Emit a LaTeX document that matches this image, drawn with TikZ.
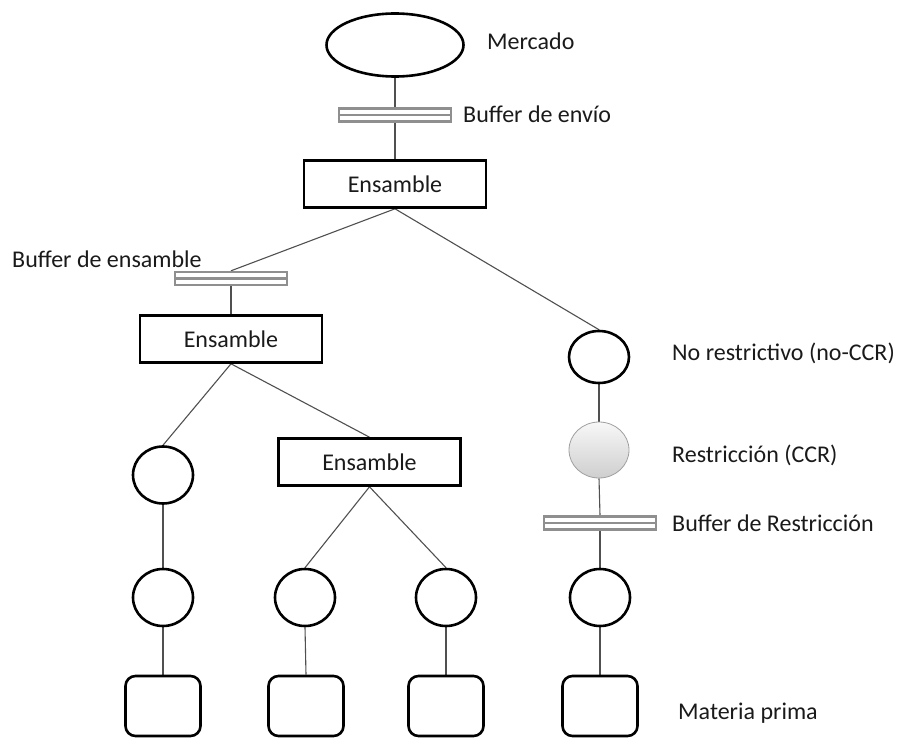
\documentclass[tikz,border=0pt]{standalone}
\usepackage{fontspec}
\setmainfont{Carlito}
\usetikzlibrary{shapes.geometric,backgrounds}
\definecolor{txt}{HTML}{1A1A1A}
\definecolor{bufgray}{HTML}{8F8F8F}
\definecolor{conn}{HTML}{505050}
\begin{document}
\begin{tikzpicture}[x=1pt,y=-1pt,
  font=\fontsize{24}{28}\selectfont,
  ensbox/.style={draw=black, line width=2.6pt, rectangle, minimum width=182pt, minimum height=47pt, inner sep=0pt, fill=white, text=txt},
  proc/.style={draw=black, line width=2.6pt, ellipse, minimum width=60pt, minimum height=57pt, inner sep=0pt, fill=white},
  ccrstyle/.style={draw=gray!75, line width=0.8pt, ellipse, minimum width=60pt, minimum height=56pt, inner sep=0pt, top color=gray!6, bottom color=gray!38},
  bufbar/.style={rectangle, draw=bufgray, line width=2.4pt, fill=white, minimum width=112pt, minimum height=13pt, inner sep=0pt,
    path picture={\draw[bufgray, line width=2.8pt] (path picture bounding box.west) -- (path picture bounding box.east);}},
  rawbox/.style={draw=black, line width=2.6pt, rectangle, rounded corners=10pt, minimum width=75pt, minimum height=60pt, inner sep=0pt, fill=white},
  lbl/.style={anchor=base west, inner sep=0pt, text=txt},
  conline/.style={draw=conn, line width=1.1pt}
]
\useasboundingbox (0,0) rectangle (899,738);

% top
\node[draw=black, line width=2.6pt, ellipse, minimum width=137pt, minimum height=63pt, inner sep=0pt, fill=white] (mercado) at (395,45) {};
\node[bufbar] (benv) at (395,115) {};
\node[ensbox] (ens1) at (395,184) {Ensamble};

% left branch
\node[bufbar] (bens) at (231,278.5) {};
\node[ensbox] (ens2) at (231,339) {Ensamble};
\node[proc] (c1) at (163,475) {};
\node[ensbox] (ens3) at (369.5,462) {Ensamble};
\node[proc] (c1b) at (163,597.5) {};
\node[proc] (c2) at (305,597.5) {};
\node[proc] (c3) at (446,597.5) {};
\node[rawbox] (r1) at (163,706) {};
\node[rawbox] (r2) at (306,706) {};
\node[rawbox] (r3) at (446,706) {};

% right branch
\node[proc, minimum height=52pt] (nr) at (599,357) {};
\node[ccrstyle] (ccr) at (599,450) {};
\node[bufbar] (bres) at (600,523) {};
\node[proc] (c4) at (600,597.5) {};
\node[rawbox] (r4) at (600,706) {};

% labels
\node[lbl] (tmerc) at (487,50) {Mercado};
\node[lbl] (tbenv) at (463,123) {Buffer de envío};
\node[lbl] (tbens) at (12,267) {Buffer de ensamble};
\node[lbl] (tnr) at (672,360) {No restrictivo (no-CCR)};
\node[lbl] (tccr) at (672,462) {Restricción (CCR)};
\node[lbl] (tbres) at (672,531) {Buffer de Restricción};
\node[lbl] (tmat) at (678,719) {Materia prima};

% connectors
\begin{scope}[on background layer]
\draw[conline] (mercado.south) -- (benv.north);
\draw[conline] (benv.south) -- (ens1.north);
\draw[conline] (ens1.south) -- (bens.north);
\draw[conline] (ens1.south) -- (nr.north);
\draw[conline] (bens.south) -- (ens2.north);
\draw[conline] (ens2.south) -- (c1.north);
\draw[conline] (ens2.south) -- (ens3.north);
\draw[conline] (c1.south) -- (c1b.north);
\draw[conline] (ens3.south) -- (c2.north);
\draw[conline] (ens3.south) -- (c3.north);
\draw[conline] (c1b.south) -- (r1.north);
\draw[conline] (c2.south) -- (r2.north);
\draw[conline] (c3.south) -- (r3.north);
\draw[conline] (nr.south) -- (ccr.north);
\draw[conline] (ccr.south) -- (bres.north);
\draw[conline] (bres.south) -- (c4.north);
\draw[conline] (c4.south) -- (r4.north);
\end{scope}
\end{tikzpicture}
\end{document}
